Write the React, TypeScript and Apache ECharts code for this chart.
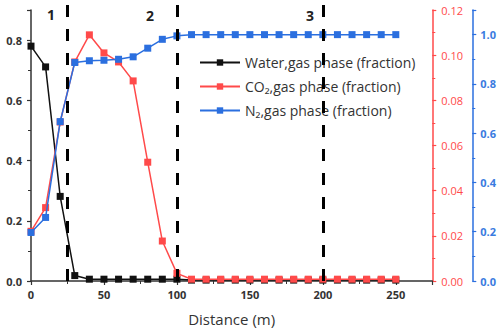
import React, { useEffect, useRef } from "react";
import * as echarts from "echarts";

const distance = [0, 10, 20, 30, 40, 50, 60, 70, 80, 90, 100, 110, 120, 130, 140, 150, 160, 170, 180, 190, 200, 210, 220, 230, 240, 250];
const water = [0.78, 0.711, 0.281, 0.018, 0.006, 0.006, 0.006, 0.006, 0.006, 0.006, 0.006, 0.003, 0.003, 0.003, 0.003, 0.003, 0.003, 0.003, 0.003, 0.003, 0.003, 0.003, 0.003, 0.003, 0.003, 0.003];
const co2 = [0.022, 0.0325, 0.0704, 0.097, 0.109, 0.101, 0.097, 0.0886, 0.0526, 0.0177, 0.0034, 0.0008, 0.0008, 0.0008, 0.0008, 0.0008, 0.0008, 0.0008, 0.0008, 0.0008, 0.0008, 0.0008, 0.0008, 0.0008, 0.0008, 0.0008];
const n2 = [0.197, 0.258, 0.647, 0.887, 0.894, 0.896, 0.9, 0.91, 0.945, 0.981, 0.995, 1.0, 1.0, 1.0, 1.0, 1.0, 1.0, 1.0, 1.0, 1.0, 1.0, 1.0, 1.0, 1.0, 1.0, 1.0];
const boundaries = [25, 100, 200];
const regionLabels = ["1", "2", "3"];
const seriesNames = ["Water,gas phase (fraction)", "CO\u2082,gas phase (fraction)", "N\u2082,gas phase (fraction)"];

const BLACK = "#111111";
const RED = "#ff4a4a";
const BLUE = "#2b6fdf";
const FONT = "'Open Sans', 'Noto Sans', sans-serif";

export default function App() {
  const ref = useRef<HTMLDivElement>(null);
  useEffect(() => {
    if (!ref.current) return;
    const chart = echarts.init(ref.current, null, { renderer: "svg" });
    const pair = (ys: number[]) => distance.map((d, i) => [d, ys[i]]);
    const labelBase = { fontFamily: FONT, fontSize: 11, fontWeight: "bold" as const };
    const option: any = {
      animation: false,
      grid: [
        { left: 31, right: 66, top: 10, bottom: 52 },
        { left: 31, right: 66, top: 3, bottom: 52 },
      ],
      legend: {
        orient: "vertical",
        left: 194,
        top: 50,
        itemWidth: 40,
        itemHeight: 8,
        itemGap: 9,
        data: seriesNames,
        textStyle: { fontFamily: FONT, fontSize: 14, color: "#333", lineHeight: 15 },
      },
      xAxis: [
        {
          type: "value",
          gridIndex: 0,
          min: 0,
          max: 275,
          interval: 50,
          name: "Distance (m)",
          nameLocation: "middle",
          nameGap: 30,
          nameTextStyle: { fontFamily: FONT, fontSize: 15, color: "#333" },
          axisLine: { show: true, onZero: false, lineStyle: { color: "#333", width: 1.5 } },
          axisTick: { show: true, length: 4, lineStyle: { color: "#333", width: 1.2 } },
          minorTick: { show: true, splitNumber: 2, length: 3, lineStyle: { color: "#333", width: 1 } },
          splitLine: { show: false },
          axisLabel: { ...labelBase, color: "#333", margin: 8, showMaxLabel: false },
        },
        { type: "value", gridIndex: 1, min: 0, max: 275, show: false },
      ],
      yAxis: [
        {
          type: "value",
          gridIndex: 0,
          min: 0,
          max: 0.9,
          interval: 0.2,
          position: "left",
          axisLine: { show: true, onZero: false, lineStyle: { color: "#333", width: 1.5 } },
          axisTick: { show: true, length: 4, lineStyle: { color: "#333", width: 1.2 } },
          minorTick: { show: true, splitNumber: 2, length: 3, lineStyle: { color: "#333", width: 1 } },
          splitLine: { show: false },
          axisLabel: { ...labelBase, color: "#333", margin: 9, showMaxLabel: false, formatter: (v: number) => v.toFixed(1) },
        },
        {
          type: "value",
          gridIndex: 0,
          min: 0,
          max: 0.12,
          interval: 0.02,
          position: "right",
          offset: 0,
          axisLine: { show: true, onZero: false, lineStyle: { color: RED, width: 1.5 } },
          axisTick: { show: true, length: 4, lineStyle: { color: RED, width: 1.2 } },
          minorTick: { show: true, splitNumber: 2, length: 3, lineStyle: { color: RED, width: 1 } },
          splitLine: { show: false },
          axisLabel: { fontFamily: FONT, fontSize: 11, color: RED, margin: 9, formatter: (v: number) => v.toFixed(2) },
        },
        {
          type: "value",
          gridIndex: 0,
          min: 0,
          max: 1.1,
          interval: 0.2,
          position: "right",
          offset: 40,
          axisLine: { show: true, onZero: false, lineStyle: { color: BLUE, width: 1.5 } },
          axisTick: { show: true, length: 4, lineStyle: { color: BLUE, width: 1.2 } },
          minorTick: { show: true, splitNumber: 2, length: 3, lineStyle: { color: BLUE, width: 1 } },
          splitLine: { show: false },
          axisLabel: { fontFamily: FONT, fontSize: 11, fontWeight: "bold", color: "#3a7be0", margin: 8, showMaxLabel: false, formatter: (v: number) => v.toFixed(1) },
        },
        { type: "value", gridIndex: 1, min: 0, max: 1, show: false },
      ],
      series: [
        {
          name: seriesNames[0],
          type: "line",
          xAxisIndex: 0,
          yAxisIndex: 0,
          data: pair(water),
          symbol: "rect",
          symbolSize: 7,
          color: BLACK,
          lineStyle: { color: BLACK, width: 1.5 },
          itemStyle: { color: BLACK },
          z: 2,
        },
        {
          name: seriesNames[1],
          type: "line",
          xAxisIndex: 0,
          yAxisIndex: 1,
          data: pair(co2),
          symbol: "rect",
          symbolSize: 7,
          color: RED,
          lineStyle: { color: RED, width: 1.5 },
          itemStyle: { color: RED },
          z: 3,
        },
        {
          name: seriesNames[2],
          type: "line",
          xAxisIndex: 0,
          yAxisIndex: 2,
          data: pair(n2),
          symbol: "rect",
          symbolSize: 7,
          color: BLUE,
          lineStyle: { color: BLUE, width: 1.5 },
          itemStyle: { color: BLUE },
          z: 4,
        },
        {
          name: "boundaries",
          type: "line",
          xAxisIndex: 1,
          yAxisIndex: 3,
          data: [],
          silent: true,
          z: 1,
          markLine: {
            silent: true,
            symbol: ["none", "none"],
            label: { show: false },
            lineStyle: { color: "#000", width: 3, type: [12, 12] },
            data: boundaries.map((b) => ({ xAxis: b })),
          },
        },
      ],
      graphic: [
        { type: "text", x: 51, y: 14, style: { text: regionLabels[0], font: `bold 14px ${FONT}`, fill: "#222", align: "center", verticalAlign: "middle" } },
        { type: "text", x: 150, y: 15, style: { text: regionLabels[1], font: `bold 14px ${FONT}`, fill: "#222", align: "center", verticalAlign: "middle" } },
        { type: "text", x: 310, y: 15, style: { text: regionLabels[2], font: `bold 14px ${FONT}`, fill: "#222", align: "center", verticalAlign: "middle" } },
      ],
    };
    chart.setOption(option);
    return () => chart.dispose();
  }, []);
  return <div ref={ref} style={{ width: 499, height: 333, position: "absolute", left: 0, top: 0 }} />;
}
